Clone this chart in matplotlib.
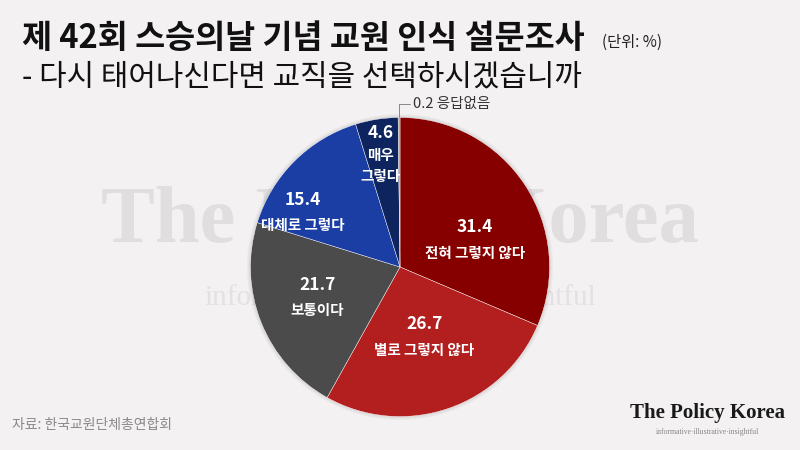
import numpy as np
import matplotlib.pyplot as plt
from matplotlib.patches import Circle

plt.rcParams['font.family'] = ['Noto Sans CJK KR', 'DejaVu Sans']

# 데이터 (단위: %) - 12시 방향부터 시계방향
values = [31.4, 26.7, 21.7, 15.4, 4.6, 0.2]
labels = ['전혀 그렇지 않다', '별로 그렇지 않다', '보통이다', '대체로 그렇다', '매우\n그렇다', '응답없음']
colors = ['#870000', '#b31f1f', '#4b4b4b', '#1b3ea5', '#0d245f', '#9a9a9a']

title = '제 42회 스승의날 기념 교원 인식 설문조사'
subtitle = '- 다시 태어나신다면 교직을 선택하시겠습니까'
source = '자료: 한국교원단체총연합회'

bg = '#f3f1f2'
fig = plt.figure(figsize=(8, 4.5), dpi=100)
fig.patch.set_facecolor(bg)

# 워터마크 (배경 축)
wm = fig.add_axes([0, 0, 1, 1])
wm.axis('off')
wm.set_zorder(0)
wm.text(0.5, 0.505, 'The Policy Korea', ha='center', va='center', fontsize=58,
        family='Liberation Serif', weight='bold', color='#e0dedf')
wm.text(0.5, 0.338, 'informative·illustrative·insightful', ha='center', va='center',
        fontsize=21, family='Liberation Serif', color='#e3e1e2')

# 제목
fig.text(0.027, 0.915, title, fontsize=23.5, weight='bold', va='center', color='#111111')
fig.text(0.752, 0.907, '(단위: %)', fontsize=11, va='center', color='#222222')
fig.text(0.027, 0.83, subtitle, fontsize=21.5, va='center', color='#111111')

# 파이
R = 157
ax = fig.add_axes([(400 - R) / 800, (183 - R) / 450, 2 * R / 800, 2 * R / 450])
ax.set_zorder(2)
ax.set_facecolor('none')
for k in range(6):
    ax.add_patch(Circle((0, 0), 1 + 0.005 * k, color='#000000', alpha=0.018, lw=0, zorder=0))
wedges, _ = ax.pie(values, colors=colors, startangle=90, counterclock=False,
                   wedgeprops=dict(edgecolor='#ffffff', linewidth=0.3))
for w in wedges:
    w.set_zorder(2)
ax.set_xlim(-1.05, 1.05)
ax.set_ylim(-1.05, 1.05)
ax.set_aspect('equal')
ax.axis('off')

# 레이블 (반지름 비율, 각도 보정)
pos = [(0.53, -14), (0.50, 0), (0.59, -1), (0.74, 16), (0.76, 1)]
cum = np.cumsum([0] + values)
for i, (r, da) in enumerate(pos):
    ang = np.deg2rad(90 - 3.6 * (cum[i] + values[i] / 2) + da)
    x, y = r * np.cos(ang), r * np.sin(ang)
    if i == 4:
        ax.text(x, y + 0.15, f'{values[i]}', ha='center', va='center', color='white',
                fontsize=12.5, weight='bold', zorder=5)
        ax.text(x, y - 0.0, '매우', ha='center', va='center', color='white',
                fontsize=10.5, weight='bold', zorder=5)
        ax.text(x, y - 0.14, '그렇다', ha='center', va='center', color='white',
                fontsize=10.5, weight='bold', zorder=5)
    else:
        ax.text(x, y + 0.09, f'{values[i]}', ha='center', va='center', color='white',
                fontsize=12.5, weight='bold', zorder=5)
        ax.text(x, y - 0.08, labels[i], ha='center', va='center', color='white',
                fontsize=10.5, weight='bold', zorder=5)

# 응답없음 지시선
ang = np.deg2rad(90 - 3.6 * (cum[5] + values[5] / 2))
x0, y0 = np.cos(ang), np.sin(ang)
ax.annotate(f'{values[5]} {labels[5]}', xy=(x0, y0), xytext=(x0 + 0.09, y0 + 0.09),
            fontsize=10.5, color='#333333', va='center', ha='left', annotation_clip=False,
            arrowprops=dict(arrowstyle='-', color='#777777', lw=0.6,
                            connectionstyle='angle,angleA=0,angleB=90,rad=0',
                            shrinkA=0, shrinkB=0))

# 출처, 로고
fig.text(0.015, 0.055, source, fontsize=10, color='#8a8a8a', va='center')
fig.text(0.884, 0.083, 'The Policy Korea', fontsize=15, family='Liberation Serif',
         weight='bold', color='#1a1a1a', ha='center', va='center')
fig.text(0.884, 0.04, 'informative·illustrative·insightful', fontsize=5.5, family='Liberation Serif',
         color='#888888', ha='center', va='center')

fig.savefig('out.png', dpi=100, facecolor=bg)
